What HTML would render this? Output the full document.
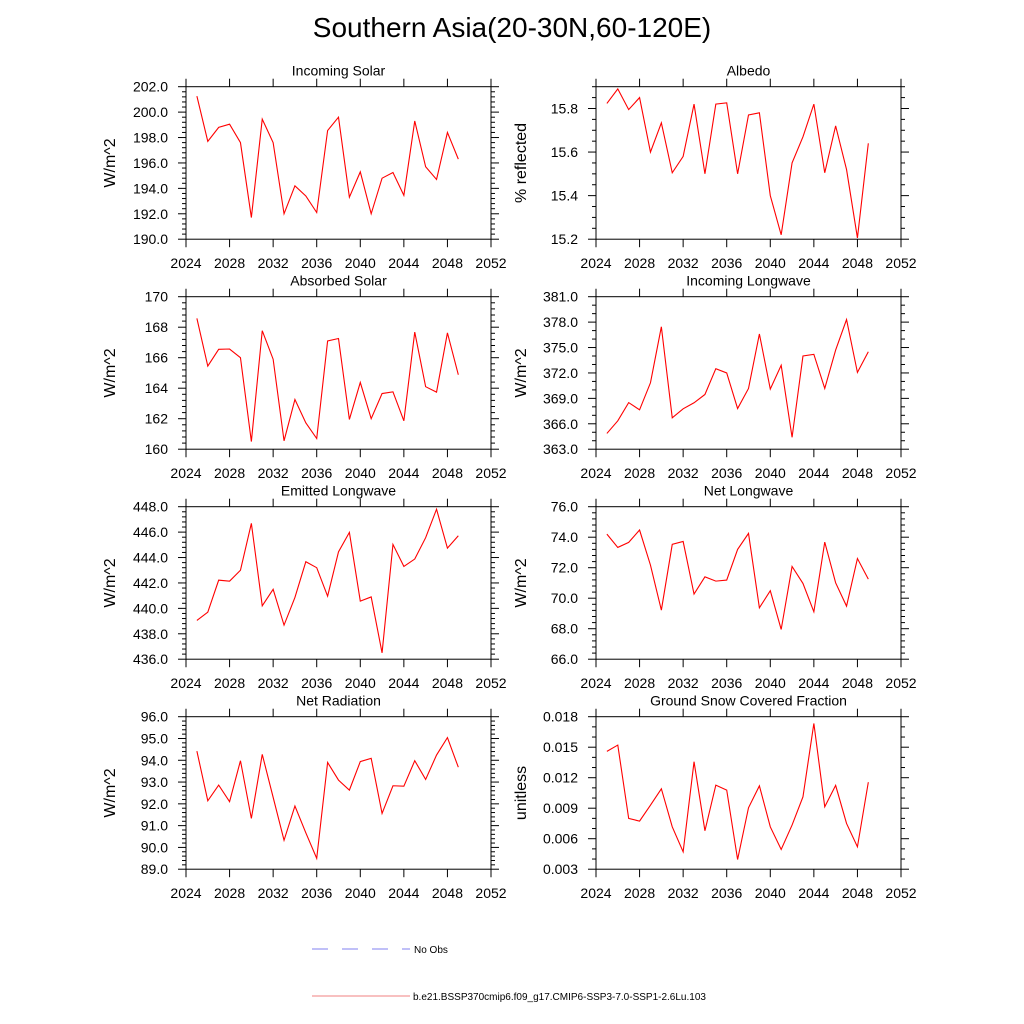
<!DOCTYPE html>
<html><head><meta charset="utf-8"><style>
html,body{margin:0;padding:0;background:#fff;}
svg{display:block;font-family:"Liberation Sans",sans-serif;}
</style></head><body>
<svg id="chart" width="1024" height="1024" viewBox="0 0 1024 1024" xmlns="http://www.w3.org/2000/svg">
<rect width="1024" height="1024" fill="#fff"/>
<text x="512" y="37" font-size="28" text-anchor="middle" fill="#000">Southern Asia(20-30N,60-120E)</text>
<g>
<line x1="312" y1="949" x2="410" y2="949" stroke="#8080f0" stroke-width="1" stroke-dasharray="16,14"/>
<text x="414" y="953" font-size="10" fill="#000">No Obs</text>
<line x1="312" y1="996" x2="410" y2="996" stroke="#f08080" stroke-width="1"/>
<text x="413" y="1000" font-size="10" fill="#000">b.e21.BSSP370cmip6.f09_g17.CMIP6-SSP3-7.0-SSP1-2.6Lu.103</text>
</g>
</svg>
<script>
const years = [2025,2026,2027,2028,2029,2030,2031,2032,2033,2034,2035,2036,2037,2038,2039,2040,2041,2042,2043,2044,2045,2046,2047,2048,2049];
const xTicks = [2024,2028,2032,2036,2040,2044,2048,2052];
const incomingSolar = [201.26,197.7,198.8,199.05,197.6,191.7,199.45,197.6,192.0,194.2,193.4,192.1,198.55,199.6,193.3,195.3,192.0,194.8,195.25,193.45,199.3,195.7,194.7,198.4,196.3];
const albedo = [15.823,15.89,15.795,15.85,15.60,15.734,15.505,15.58,15.82,15.50,15.82,15.826,15.50,15.77,15.78,15.40,15.22,15.55,15.67,15.82,15.505,15.72,15.52,15.206,15.64];
const absorbedSolar = [168.58,165.45,166.55,166.57,166.0,160.5,167.77,165.9,160.55,163.26,161.73,160.7,167.1,167.26,161.95,164.38,162.0,163.65,163.76,161.86,167.68,164.1,163.74,167.63,164.88];
const incomingLongwave = [364.86,366.35,368.5,367.65,370.84,377.45,366.7,367.77,368.48,369.46,372.5,372.0,367.8,370.17,376.6,370.1,372.9,364.4,374.0,374.2,370.17,374.7,378.3,372.06,374.5];
const emittedLongwave = [439.05,439.7,442.22,442.14,443.0,446.69,440.2,441.5,438.68,440.86,443.67,443.2,440.96,444.45,445.98,440.57,440.9,436.5,445.03,443.3,443.88,445.56,447.8,444.74,445.71];
const netLongwave = [74.2,73.33,73.66,74.47,72.17,69.22,73.53,73.72,70.27,71.4,71.12,71.19,73.2,74.25,69.37,70.49,67.95,72.08,70.97,69.11,73.68,71.01,69.48,72.6,71.25];
const netRadiation = [94.42,92.14,92.86,92.1,93.98,91.33,94.27,92.3,90.33,91.9,90.67,89.5,93.9,93.09,92.63,93.94,94.09,91.56,92.83,92.81,93.98,93.12,94.24,95.04,93.68];
const snowFraction = [0.01459,0.01521,0.00799,0.00773,0.0093,0.01091,0.00717,0.00471,0.01357,0.00678,0.01127,0.01078,0.00395,0.00904,0.0112,0.00717,0.00494,0.00734,0.01012,0.01734,0.00914,0.01124,0.0075,0.0052,0.01156];

const NS = "http://www.w3.org/2000/svg";
const svg = document.getElementById('chart');
function mk(tag, attrs, parent){ const e=document.createElementNS(NS,tag); for(const k in attrs) e.setAttribute(k,attrs[k]); (parent||svg).appendChild(e); return e; }

const panels = [
 {name:'incoming-solar', title:'Incoming Solar', ylab:'W/m^2', data:incomingSolar, min:190, max:202, step:2, dec:1, minor:5, col:0, row:0},
 {name:'albedo', title:'Albedo', ylab:'% reflected', data:albedo, min:15.2, max:15.9, step:0.2, dec:1, minor:4, col:1, row:0},
 {name:'absorbed-solar', title:'Absorbed Solar', ylab:'W/m^2', data:absorbedSolar, min:160, max:170, step:2, dec:0, minor:5, col:0, row:1},
 {name:'incoming-longwave', title:'Incoming Longwave', ylab:'W/m^2', data:incomingLongwave, min:363, max:381, step:3, dec:1, minor:3, col:1, row:1},
 {name:'emitted-longwave', title:'Emitted Longwave', ylab:'W/m^2', data:emittedLongwave, min:436, max:448, step:2, dec:1, minor:5, col:0, row:2},
 {name:'net-longwave', title:'Net Longwave', ylab:'W/m^2', data:netLongwave, min:66, max:76, step:2, dec:1, minor:5, col:1, row:2},
 {name:'net-radiation', title:'Net Radiation', ylab:'W/m^2', data:netRadiation, min:89, max:96, step:1, dec:1, minor:5, col:0, row:3},
 {name:'snow-fraction', title:'Ground Snow Covered Fraction', ylab:'unitless', data:snowFraction, min:0.003, max:0.018, step:0.003, dec:3, minor:3, col:1, row:3}
];
const colX = [186, 596], W = 305, H = 152.5;
const rowY = [86.7, 296.7, 506.7, 716.7];

panels.forEach(p => {
  const L = colX[p.col], T = rowY[p.row], R = L + W, B = T + H;
  const g = mk('g', {});
  
  
  const xs = v => L + (v - 2024) / 28 * W;
  const ys = v => B - (v - p.min) / (p.max - p.min) * H;
  const fr = mk('rect', {x:L, y:T, width:W, height:H, fill:'none', stroke:'#000', 'stroke-width':1}, g);
  
  
  xTicks.forEach(t => {
    const x = xs(t);
    mk('line', {x1:x, y1:B, x2:x, y2:B+8, stroke:'#000', 'stroke-width':1}, g);
    mk('line', {x1:x, y1:T, x2:x, y2:T-8, stroke:'#000', 'stroke-width':1}, g);
    const tx = mk('text', {x:x, y:B+29, 'font-size':14, 'text-anchor':'middle', fill:'#000'}, g);
    
    
    tx.textContent = t;
  });
  const nMaj = Math.round((p.max - p.min) / p.step);
  const minorStep = p.step / p.minor;
  const nMin = Math.round((p.max - p.min) / minorStep + 1e-6);
  for (let i = 0; i <= nMin; i++) {
    const v = p.min + i * minorStep, y = ys(v);
    const major = (i % p.minor === 0);
    const len = major ? 8 : 4;
    mk('line', {x1:L, y1:y, x2:L-len, y2:y, stroke:'#000', 'stroke-width':1}, g);
    mk('line', {x1:R, y1:y, x2:R+len, y2:y, stroke:'#000', 'stroke-width':1}, g);
  }
  for (let i = 0; i <= nMaj; i++) {
    const v = p.min + i * p.step;
    if (v > p.max + 1e-9) break;
    const ty = mk('text', {x:L-18, y:ys(v)+5, 'font-size':14, 'text-anchor':'end', fill:'#000'}, g);
    
    
    ty.textContent = v.toFixed(p.dec);
  }
  const tt = mk('text', {x:L+W/2, y:T-11, 'font-size':14, 'text-anchor':'middle', fill:'#000'}, g);
  
  
  tt.textContent = p.title;
  const yl = L - 71 + (p.col === 1 ? 1 : 0);
  const ylab = mk('text', {x:yl, y:T+H/2, 'font-size':16, 'text-anchor':'middle', fill:'#000', transform:`rotate(-90 ${yl} ${T+H/2})`}, g);
  
  
  ylab.textContent = p.ylab;
  const pts = years.map((yr, i) => xs(yr).toFixed(2) + ',' + ys(p.data[i]).toFixed(2)).join(' ');
  const pl = mk('polyline', {points:pts, fill:'none', stroke:'#ff0000', 'stroke-width':1.1}, g);
  
  
});
</script>
</body></html>
